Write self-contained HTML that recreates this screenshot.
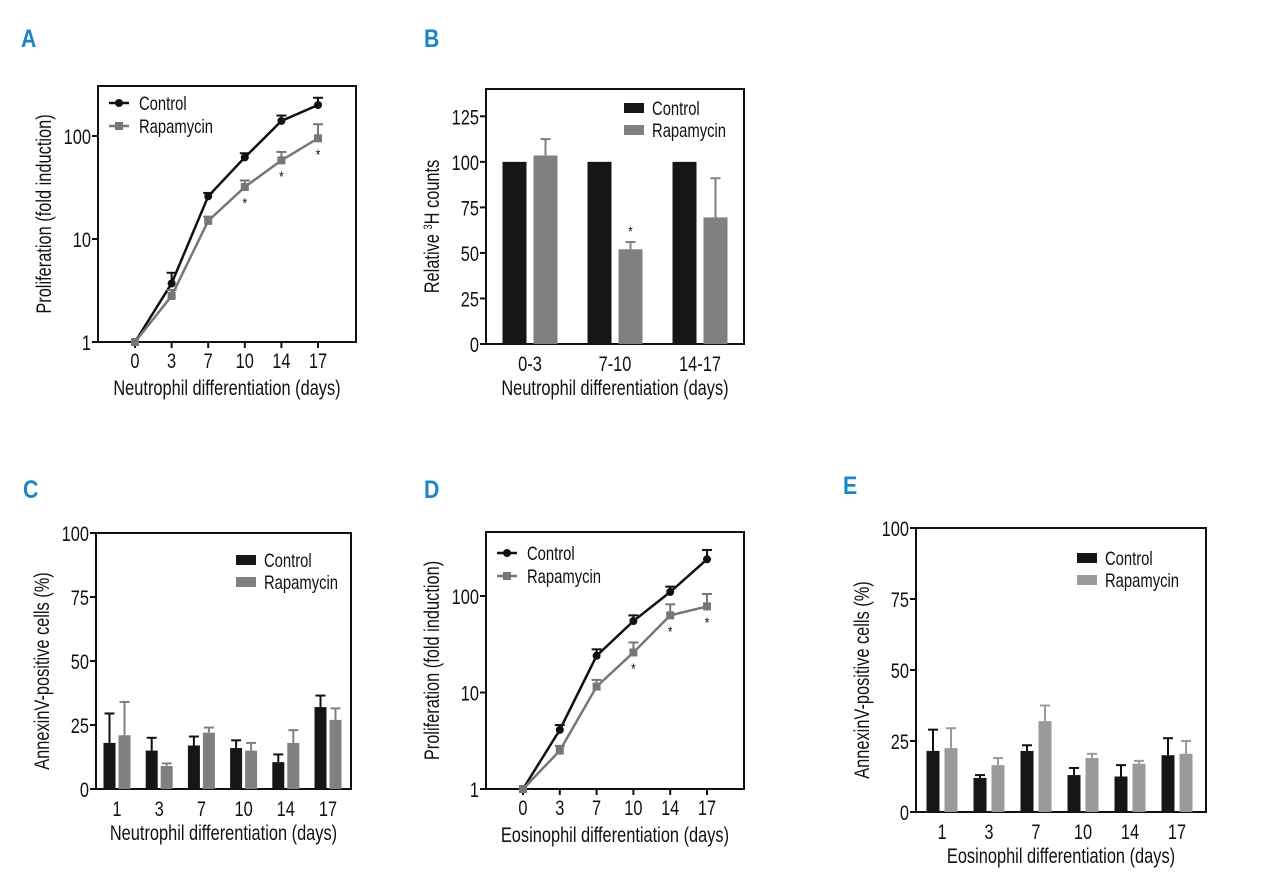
<!DOCTYPE html>
<html><head><meta charset="utf-8"><style>
body{margin:0;background:#fff;}
svg{display:block;font-family:"Liberation Sans",sans-serif;}
.lab{font-family:"Liberation Sans",sans-serif;font-weight:bold;fill:#1a86c4;font-size:25px;}
</style></head><body>
<svg id="fig" width="1280" height="882" viewBox="0 0 1280 882"></svg>
<script>
// Panel A (neutrophil proliferation, log)
const aDays=['0','3','7','10','14','17'];
const aCtrl=[1,3.7,26,62,140,200];
const aCtrlErr=[1,4.7,28,68,158,235];
const aRapa=[1,2.8,15,32,58,95];
const aRapaErr=[1,3.2,16.5,37,70,130];
const aSig=[false,false,false,true,true,true];
// Panel B (3H counts)
const bCats=['0-3','7-10','14-17'];
const bCtrl=[100,100,100];
const bCtrlErr=[100,100,100];
const bRapa=[103.5,52,69.5];
const bRapaErr=[112.5,56,91];
const bSig=[false,true,false];
const bTicks=[0,25,50,75,100,125];
// Panel C (neutrophil annexin)
const cDays=['1','3','7','10','14','17'];
const cCtrl=[18,15,17,16,10.5,32];
const cCtrlErr=[29.5,20,20.5,19,13.5,36.5];
const cRapa=[21,9,22,15,18,27];
const cRapaErr=[34,10,24,18,23,31.5];
// Panel D (eosinophil proliferation, log)
const dDays=['0','3','7','10','14','17'];
const dCtrl=[1,4.1,24,55,110,240];
const dCtrlErr=[1,4.6,28,63,125,300];
const dRapa=[1,2.5,11.5,26,63,78];
const dRapaErr=[1,2.8,13.5,33,82,105];
const dSig=[false,false,false,true,true,true];
// Panel E (eosinophil annexin)
const eDays=['1','3','7','10','14','17'];
const eCtrl=[21.5,12,21.5,13,12.5,20];
const eCtrlErr=[29,13,23.5,15.5,16.5,26];
const eRapa=[22.5,16.5,32,19,17,20.5];
const eRapaErr=[29.5,19,37.5,20.5,18,25];
const pctTicks=[0,25,50,75,100];
const logTicks=[1,10,100];

const NS='http://www.w3.org/2000/svg';
const svg=document.getElementById('fig');
const SX=0.78;
function mk(tag,attrs,parent,name,inter){
  const e=document.createElementNS(NS,tag);
  for(const k in attrs)e.setAttribute(k,attrs[k]);
  
  
  (parent||svg).appendChild(e);return e;
}
function txt(x,y,s,size,anchor,parent,name){
  const t=mk('text',{x:x/SX,y:y,'font-size':size,'text-anchor':anchor||'middle',fill:'#111',transform:`scale(${SX},1)`},parent,name,false);
  t.textContent=s;return t;
}
function panelLabel(x,y,s){const t=mk('text',{x:x/0.85,y:y,class:'lab',transform:'scale(0.85,1)'},svg,'panel-label-'+s.toLowerCase(),false);t.textContent=s;}

function frame(g,x0,x1,y0,y1,p){
  mk('rect',{x:x0,y:y0,width:x1-x0,height:y1-y0,fill:'none',stroke:'#111','stroke-width':2},g,p+'-plot-frame',false);
}
function errBar(g,x,yv,ye,col,cap,name){
  mk('line',{x1:x,x2:x,y1:yv,y2:ye,stroke:col,'stroke-width':2},g,name,false);
  mk('line',{x1:x-cap,x2:x+cap,y1:ye,y2:ye,stroke:col,'stroke-width':2},g,name+'-cap',false);
}
function yTitle(g,x,y,html,name){
  const t=mk('text',{x:0,y:0,'font-size':21,'text-anchor':'middle',fill:'#111',transform:`translate(${x},${y}) rotate(-90) scale(${SX},1)`},g,name,false);
  t.innerHTML=html;
}

function linePanel(p,box,cats,ctrl,ctrlE,rapa,rapaE,sig,xTitle,leg){
  const g=mk('g',{},svg,'panel-'+p,false);
  const {x0,x1,y0,y1,dec,cx0,cdx}=box;
  const Y=v=>y1-Math.log10(v)*dec;
  const X=i=>cx0+i*cdx;
  frame(g,x0,x1,y0,y1,p);
  logTicks.forEach(t=>{mk('line',{x1:x0-6,x2:x0,y1:Y(t),y2:Y(t),stroke:'#111','stroke-width':2},g,p+'-y-tick',false);
    txt(x0-7,Y(t)+8,String(t),21,'end',g,p+'-y-tick-label');});
  cats.forEach((c,i)=>{mk('line',{x1:X(i),x2:X(i),y1:y1,y2:y1+6,stroke:'#111','stroke-width':2},g,p+'-x-tick',false);
    txt(X(i),y1+26,c,21,'middle',g,p+'-x-tick-label');});
  txt((x0+x1)/2,y1+53,xTitle,21,'middle',g,p+'-x-axis-title');
  yTitle(g,x0-47,(y0+y1)/2,'Proliferation (fold induction)',p+'-y-axis-title');
  const series=[[ctrl,ctrlE,'#111','control'],[rapa,rapaE,'#777','rapamycin']];
  series.forEach(([v,e,col,nm])=>{
    v.forEach((val,i)=>{if(e[i]>val)errBar(g,X(i),Y(val),Y(e[i]),col,5,p+'-'+nm+'-error-bar');});
    mk('polyline',{points:v.map((val,i)=>X(i)+','+Y(val)).join(' '),fill:'none',stroke:col,'stroke-width':2.5},g,p+'-'+nm+'-line',false);
    v.forEach((val,i)=>{
      if(nm==='control')mk('circle',{cx:X(i),cy:Y(val),r:4,fill:col},g,p+'-control-point',false);
      else mk('rect',{x:X(i)-4,y:Y(val)-4,width:8,height:8,fill:col},g,p+'-rapamycin-point',false);
    });
  });
  sig.forEach((s,i)=>{if(s)txt(X(i),Y(rapa[i])+21,'*',15,'middle',g,p+'-significance-mark');});
  mk('line',{x1:leg.x,x2:leg.x+20,y1:leg.y,y2:leg.y,stroke:'#111','stroke-width':2.5},g,p+'-legend-control-line',false);
  mk('circle',{cx:leg.x+10,cy:leg.y,r:4,fill:'#111'},g,p+'-legend-control-marker',false);
  txt(leg.x+30,leg.y+7,'Control',19,'start',g,p+'-legend-control-label');
  mk('line',{x1:leg.x,x2:leg.x+20,y1:leg.y+23,y2:leg.y+23,stroke:'#777','stroke-width':2.5},g,p+'-legend-rapamycin-line',false);
  mk('rect',{x:leg.x+6,y:leg.y+19,width:8,height:8,fill:'#777'},g,p+'-legend-rapamycin-marker',false);
  txt(leg.x+30,leg.y+30,'Rapamycin',19,'start',g,p+'-legend-rapamycin-label');
}

function barPanel(p,box,cats,ctrl,ctrlE,rapa,rapaE,sig,ticks,yT,xTitle,rcol,leg,bw,gap){
  const g=mk('g',{},svg,'panel-'+p,false);
  const {x0,x1,y0,y1,ymax,cx0,cdx}=box;
  const Y=v=>y1-v/ymax*(y1-y0);
  const X=i=>cx0+i*cdx;
  frame(g,x0,x1,y0,y1,p);
  ticks.forEach(t=>{mk('line',{x1:x0-6,x2:x0,y1:Y(t),y2:Y(t),stroke:'#111','stroke-width':2},g,p+'-y-tick',false);
    txt(x0-7,Y(t)+8,String(t),21,'end',g,p+'-y-tick-label');});
  cats.forEach((c,i)=>txt(X(i),y1+27,c,21,'middle',g,p+'-x-tick-label'));
  txt((x0+x1)/2,y1+51,xTitle,21,'middle',g,p+'-x-axis-title');
  yTitle(g,x0-47,(y0+y1)/2+10,yT,p+'-y-axis-title');
  cats.forEach((c,i)=>{
    const xc=X(i)-gap/2-bw, xr=X(i)+gap/2;
    if(ctrlE[i]>ctrl[i])errBar(g,xc+bw/2,Y(ctrl[i]),Y(ctrlE[i]),'#111',5,p+'-control-error-bar');
    if(rapaE[i]>rapa[i])errBar(g,xr+bw/2,Y(rapa[i]),Y(rapaE[i]),rcol,5,p+'-rapamycin-error-bar');
    mk('rect',{x:xc,y:Y(ctrl[i]),width:bw,height:y1-Y(ctrl[i]),fill:'#161616'},g,p+'-control-bar-'+c,false);
    mk('rect',{x:xr,y:Y(rapa[i]),width:bw,height:y1-Y(rapa[i]),fill:rcol},g,p+'-rapamycin-bar-'+c,false);
    if(sig&&sig[i])txt(xr+bw/2,Y(rapaE[i])-6,'*',14,'middle',g,p+'-significance-mark');
  });
  mk('rect',{x:leg.x,y:leg.y,width:20,height:10,fill:'#161616'},g,p+'-legend-control-swatch',false);
  txt(leg.x+28,leg.y+12,'Control',19,'start',g,p+'-legend-control-label');
  mk('rect',{x:leg.x,y:leg.y+22,width:20,height:10,fill:rcol},g,p+'-legend-rapamycin-swatch',false);
  txt(leg.x+28,leg.y+34,'Rapamycin',19,'start',g,p+'-legend-rapamycin-label');
}

panelLabel(21,47,'A');panelLabel(424,47,'B');panelLabel(23,498,'C');panelLabel(424,498,'D');panelLabel(843,494,'E');

linePanel('a',{x0:98,x1:356,y0:86,y1:342,dec:103,cx0:135,cdx:36.6},aDays,aCtrl,aCtrlErr,aRapa,aRapaErr,aSig,'Neutrophil differentiation (days)',{x:109,y:103});
barPanel('b',{x0:486,x1:744,y0:89,y1:344,ymax:140,cx0:530,cdx:85},bCats,bCtrl,bCtrlErr,bRapa,bRapaErr,bSig,bTicks,'Relative <tspan font-size="12" dy="-7">3</tspan><tspan dy="7">H counts</tspan>','Neutrophil differentiation (days)','#808080',{x:624,y:103},24,7);
barPanel('c',{x0:96,x1:351,y0:533,y1:789,ymax:100,cx0:117,cdx:42.2},cDays,cCtrl,cCtrlErr,cRapa,cRapaErr,null,pctTicks,'AnnexinV-positive cells (%)','Neutrophil differentiation (days)','#808080',{x:236,y:555},12,3);
linePanel('d',{x0:486,x1:744,y0:532,y1:789,dec:96.5,cx0:523,cdx:36.8},dDays,dCtrl,dCtrlErr,dRapa,dRapaErr,dSig,'Eosinophil differentiation (days)',{x:497,y:553});
barPanel('e',{x0:916,x1:1206,y0:528,y1:812,ymax:100,cx0:942,cdx:47},eDays,eCtrl,eCtrlErr,eRapa,eRapaErr,null,pctTicks,'AnnexinV-positive cells (%)','Eosinophil differentiation (days)','#9a9a9a',{x:1077,y:553},13,5);
</script>
</body></html>
